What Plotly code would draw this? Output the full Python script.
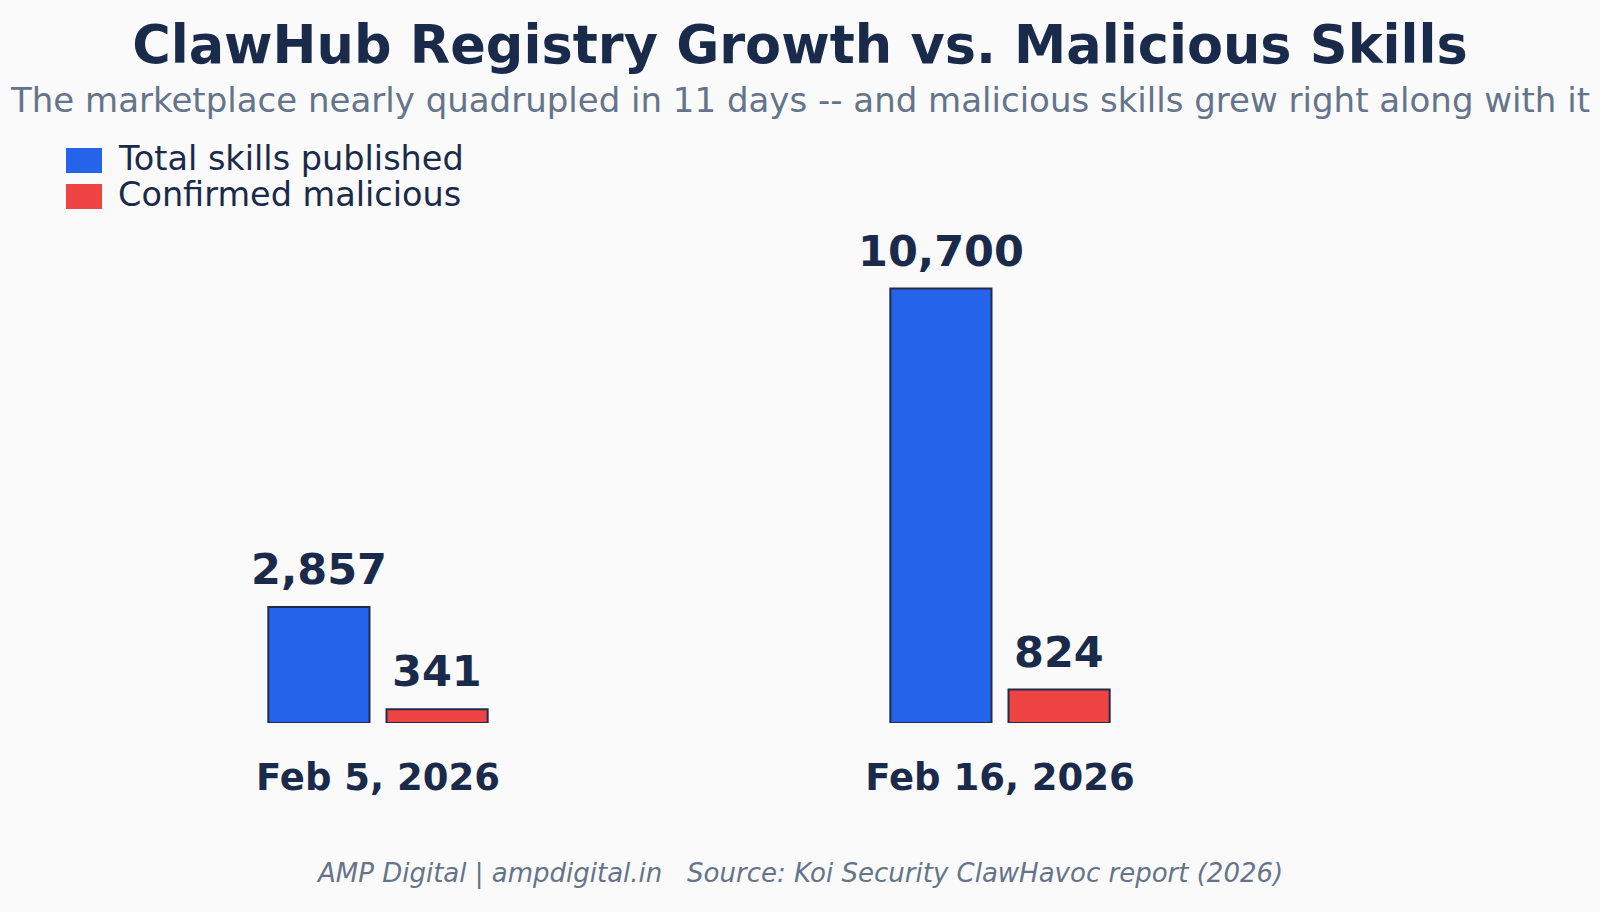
import plotly.graph_objects as go

# ---- data ----
dates = ["Feb 5, 2026", "Feb 16, 2026"]
total_skills = [2857, 10700]
malicious = [341, 824]
series_names = ["Total skills published", "Confirmed malicious"]
title_text = "ClawHub Registry Growth vs. Malicious Skills"
subtitle_text = "The marketplace nearly quadrupled in 11 days -- and malicious skills grew right along with it"
footer_text = "AMP Digital | ampdigital.in   Source: Koi Security ClawHavoc report (2026)"

# ---- style ----
W, H = 1600, 912
ML, MR, MT, MB = 67, 289, 180, 189
PW = W - ML - MR
NAVY = "#1a2a4a"
GRAY = "#64748b"
BLUE = "#2563eb"
RED = "#ef4444"
EDGE = "#1e2b4a"
FONT = "DejaVu Sans"

def px_to_paper_x(px):
    return (px - ML) / PW

fig = go.Figure()
fig.add_trace(go.Bar(x=dates, y=total_skills, name=series_names[0],
                     marker=dict(color=BLUE, line=dict(color=EDGE, width=2)),
                     showlegend=False, hoverinfo="x+y"))
fig.add_trace(go.Bar(x=dates, y=malicious, name=series_names[1],
                     marker=dict(color=RED, line=dict(color=EDGE, width=2)),
                     showlegend=False, hoverinfo="x+y"))

annotations = []
# value labels
for vals, shift in ((total_skills, -59), (malicious, 59)):
    for d, v in zip(dates, vals):
        annotations.append(dict(x=d, y=v, xref="x", yref="y", text=f"{v:,}",
                                showarrow=False, xshift=shift, yshift=11,
                                yanchor="bottom", xanchor="center",
                                font=dict(family=FONT, size=43, color=NAVY, weight="bold")))

# subtitle
annotations.append(dict(x=px_to_paper_x(800), y=1, xref="paper", yref="paper",
                        yshift=MT - 100, yanchor="middle", xanchor="center",
                        showarrow=False, text=subtitle_text,
                        font=dict(family=FONT, size=34, color=GRAY)))
# footer
annotations.append(dict(x=px_to_paper_x(799), y=0, xref="paper", yref="paper",
                        yshift=-(873 - (H - MB)), yanchor="middle", xanchor="center",
                        showarrow=False, text=footer_text,
                        font=dict(family=FONT, size=26, color=GRAY, style="italic")))

# manual legend
shapes = []
legend_rows = [(series_names[0], BLUE, 148, 173, 158), (series_names[1], RED, 184, 209, 194)]
for name, col, top, bot, cy in legend_rows:
    shapes.append(dict(type="rect", xref="paper", yref="paper",
                       xsizemode="pixel", ysizemode="pixel", xanchor=0, yanchor=1,
                       x0=66 - ML, x1=102 - ML, y0=MT - top, y1=MT - bot,
                       fillcolor=col, line=dict(width=0)))
    annotations.append(dict(x=0, y=1, xref="paper", yref="paper",
                            xshift=116 - ML, yshift=MT - cy, xanchor="left", yanchor="middle",
                            showarrow=False, text=name,
                            font=dict(family=FONT, size=33.5, color=NAVY)))

fig.update_layout(
    width=W, height=H,
    margin=dict(l=ML, r=MR, t=MT, b=MB, pad=0),
    paper_bgcolor="#fafafa", plot_bgcolor="#fafafa",
    barmode="group", bargap=0.62, bargroupgap=0.144,
    title=dict(text=title_text, x=0.5, xref="container", xanchor="center",
               y=1 - 45 / H, yref="container", yanchor="middle",
               font=dict(family=FONT, size=52.5, color=NAVY, weight="bold")),
    xaxis=dict(showgrid=False, zeroline=False, showline=False, ticks="",
               tickfont=dict(family=FONT, size=37, color=NAVY, weight="bold"),
               ticklabelstandoff=29),
    yaxis=dict(range=[0, 13375], visible=False, showgrid=False, zeroline=False),
    annotations=annotations, shapes=shapes,
    font=dict(family=FONT, color=NAVY),
)

fig.write_html("out.html")
